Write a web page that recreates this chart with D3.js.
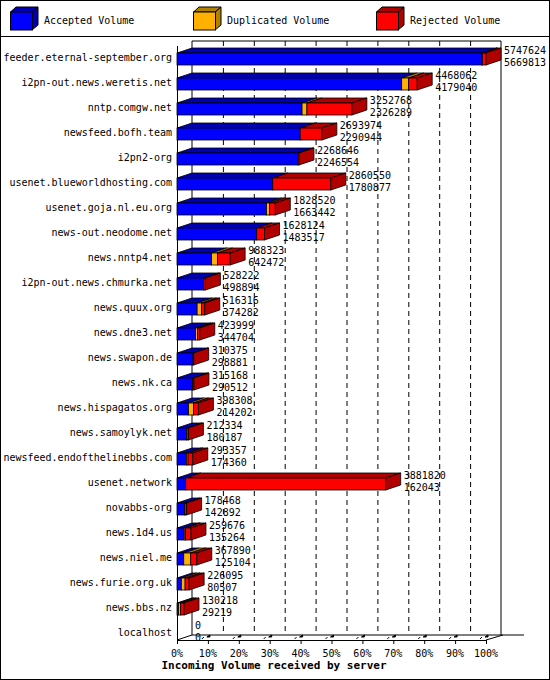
<!DOCTYPE html>
<html>
<head>
  <meta charset="utf-8">
  <title>Incoming Volume</title>
  <style>
    body { margin: 0; background: #fff; }
    text { font-family: "DejaVu Sans Mono", monospace; font-size: 10px; }
  </style>
</head>
<body>
  <svg width="550" height="680"></svg>
  <script src="https://cdn.jsdelivr.net/npm/d3@7/dist/d3.min.js"></script>
  <script>
    const servers = ['feeder.eternal-september.org', 'i2pn-out.news.weretis.net', 'nntp.comgw.net',
      'newsfeed.bofh.team', 'i2pn2-org', 'usenet.blueworldhosting.com', 'usenet.goja.nl.eu.org',
      'news-out.neodome.net', 'news.nntp4.net', 'i2pn-out.news.chmurka.net', 'news.quux.org',
      'news.dne3.net', 'news.swapon.de', 'news.nk.ca', 'news.hispagatos.org', 'news.samoylyk.net',
      'newsfeed.endofthelinebbs.com', 'usenet.network', 'novabbs-org', 'news.1d4.us', 'news.niel.me',
      'news.furie.org.uk', 'news.bbs.nz', 'localhost'];
    const offered = [5747624, 4468062, 3252768, 2693974, 2268646, 2860550, 1828520, 1628124, 988323,
      528222, 516316, 423999, 310375, 315168, 398308, 212334, 293357, 3881820, 178468, 259676, 367890,
      226095, 130218, 0];
    const accepted = [5669813, 4179040, 2326289, 2290944, 2246554, 1780877, 1663442, 1483517, 642472,
      498894, 374282, 344704, 298881, 290512, 214202, 180187, 174360, 162043, 142892, 135264, 125104,
      80507, 29219, 0];
    // duplicated volume; rejected = rest
    const duplicated = [10000, 130000, 90000, 0, 0, 0, 60000, 0, 110000, 0, 80000, 40000, 0, 0, 92000,
      0, 30000, 0, 0, 20000, 130000, 70000, 40000, 0];
    const ticks = d3.range(0, 101, 10);

    const svg = d3.select('svg');
    const dx = 15, dy = 5, h = 12;
    const front = { blue: '#0000ff', orange: '#ffb000', red: '#ff0000' };
    const dark = { blue: '#0000b0', orange: '#b08000', red: '#b00000' };

    svg.append('rect').attr('x', 0.5).attr('y', 0.5).attr('width', 549).attr('height', 679)
      .attr('fill', '#fff').attr('stroke', '#000');
    svg.append('line').attr('x1', 0).attr('x2', 550).attr('y1', 36.5).attr('y2', 36.5).attr('stroke', '#000');

    // legend
    const legend = [['Accepted Volume', 'blue', 10], ['Duplicated Volume', 'orange', 193], ['Rejected Volume', 'red', 376]];
    legend.forEach(([label, c, lx]) => {
      const g = svg.append('g').attr('transform', `translate(${lx},0)`);
      g.append('polygon').attr('points', `22,12 28,7 28,25 22,30`).attr('fill', dark[c]).attr('stroke', '#000');
      g.append('polygon').attr('points', `0.5,12 6,7 28,7 22,12`).attr('fill', dark[c]).attr('stroke', '#000');
      g.append('rect').attr('x', 0.5).attr('y', 12).attr('width', 22).attr('height', 18)
        .attr('fill', front[c]).attr('stroke', '#000');
      g.append('text').attr('x', 34).attr('y', 24).text(label);
    });

    const x = d3.scaleLinear().domain([0, d3.max(offered)]).range([177, 486]);
    const pct = d3.scaleLinear().domain([0, 100]).range([177, 486]);
    const y = d3.scalePoint().domain(servers).range([59, 634]);
    const yTop = 41, yBottom = 640;

    // back wall
    svg.append('line').attr('x1', pct(0) + dx).attr('x2', pct(100) + dx).attr('y1', yTop).attr('y2', yTop).attr('stroke', '#000');
    svg.append('line').attr('x1', pct(100) + dx).attr('x2', pct(100) + dx).attr('y1', yTop).attr('y2', yBottom - dy).attr('stroke', '#000');
    svg.append('line').attr('x1', pct(0) + dx).attr('x2', pct(0) + dx).attr('y1', yTop).attr('y2', yBottom - dy).attr('stroke', '#000');
    svg.selectAll('.grid').data(ticks.slice(1, -1)).enter().append('line')
      .attr('x1', d => pct(d) + dx + 0.5).attr('x2', d => pct(d) + dx + 0.5)
      .attr('y1', yTop).attr('y2', yBottom - dy)
      .attr('stroke', '#000').attr('stroke-dasharray', '5,4');
    svg.append('line').attr('x1', pct(0) + dx).attr('x2', pct(100) + dx + 23).attr('y1', yBottom - dy).attr('y2', yBottom - dy).attr('stroke', '#000');

    // front axes
    svg.append('line').attr('x1', 177.5).attr('x2', 177.5).attr('y1', yTop + dy).attr('y2', yBottom).attr('stroke', '#000');
    svg.append('line').attr('x1', 177).attr('x2', pct(100)).attr('y1', yBottom + 0.5).attr('y2', yBottom + 0.5).attr('stroke', '#000');
    svg.append('line').attr('x1', pct(100)).attr('x2', pct(100) + dx + 2).attr('y1', yBottom).attr('y2', yBottom - dy).attr('stroke', '#000');
    svg.append('line').attr('x1', 177).attr('x2', 177 + dx).attr('y1', yBottom).attr('y2', yBottom - dy).attr('stroke', '#000');
    const tk = svg.selectAll('.tick').data(ticks).enter().append('g');
    tk.append('line').attr('x1', d => pct(d) + 0.5).attr('x2', d => pct(d) + 0.5)
      .attr('y1', yBottom).attr('y2', yBottom + 4).attr('stroke', '#000');
    tk.filter(d => d > 0).append('path')
      .attr('d', d => `M${pct(d) - 6},${yBottom - 1}l2,-2 M${pct(d) - 1},${yBottom - 3}l3,-2 v2 h-3z`)
      .attr('stroke', '#000').attr('fill', '#000');
    tk.append('text').attr('x', d => pct(d)).attr('y', 657).attr('text-anchor', 'middle').text(d => d + '%');
    svg.append('text').attr('x', 274).attr('y', 669).attr('text-anchor', 'middle')
      .attr('font-weight', 'bold').style('font-size', '11px').text('Incoming Volume received by server');

    // labels
    svg.selectAll('.lab').data(servers).enter().append('text')
      .attr('x', 172).attr('y', d => y(d) + 2).attr('text-anchor', 'end').text(d => d);

    // bars
    servers.forEach((s, i) => {
      const cy = y(s);
      const segs = [['blue', accepted[i]], ['orange', duplicated[i]], ['red', offered[i] - accepted[i] - duplicated[i]]];
      let cum = 0;
      const g = svg.append('g');
      const y0 = cy - h / 2;
      if (offered[i] > 0) {
        segs.forEach(([c, v]) => {
          if (v <= 0) return;
          const a = x(cum), b = x(cum + v);
          cum += v;
          g.append('polygon').attr('points', `${a},${y0} ${a + dx},${y0 - dy} ${b + dx},${y0 - dy} ${b},${y0}`)
            .attr('fill', dark[c]).attr('stroke', '#000').attr('stroke-width', 0.8);
          g.append('rect').attr('x', a).attr('y', y0).attr('width', b - a).attr('height', h)
            .attr('fill', front[c]).attr('stroke', '#000').attr('stroke-width', 0.8);
        });
        const e = x(offered[i]);
        g.append('polygon').attr('points', `${e},${y0} ${e + dx},${y0 - dy} ${e + dx},${y0 + h - dy} ${e},${y0 + h}`)
          .attr('fill', dark.red).attr('stroke', '#000').attr('stroke-width', 0.8);
      }
      const tx = x(offered[i]) + dx + 3;
      g.append('text').attr('x', tx).attr('y', cy - 5).text(offered[i]);
      g.append('text').attr('x', tx).attr('y', cy + 7).text(accepted[i]);
    });
  </script>
</body>
</html>
